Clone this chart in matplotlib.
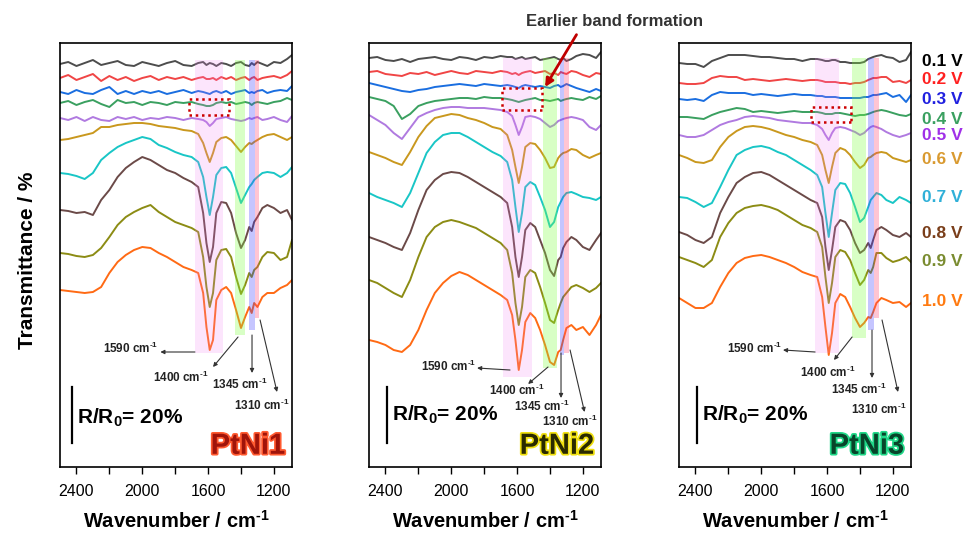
import matplotlib
matplotlib.use('Agg')
import matplotlib.pyplot as plt
import matplotlib.patheffects as pe
from matplotlib.patches import Rectangle
from matplotlib.transforms import blended_transform_factory

plt.rcParams['font.family'] = ['Liberation Sans', 'DejaVu Sans']
plt.rcParams['mathtext.fontset'] = 'custom'
plt.rcParams['mathtext.rm'] = 'Liberation Sans:bold'
plt.rcParams['mathtext.default'] = 'rm'

# 波數 (cm-1)
wavenumber = [2500, 2450, 2400, 2350, 2300, 2250, 2200, 2150, 2100, 2050, 2000, 1950,
              1900, 1850, 1800, 1750, 1700, 1660, 1630, 1610, 1590, 1570, 1550, 1520,
              1490, 1460, 1430, 1400, 1375, 1350, 1335, 1320, 1300, 1270, 1240, 1200,
              1160, 1120, 1090]
potentials = ['0.1 V', '0.2 V', '0.3 V', '0.4 V', '0.5 V', '0.6 V', '0.7 V', '0.8 V', '0.9 V', '1.0 V']
samples = ['PtNi1', 'PtNi2', 'PtNi3']

# PtNi1 (offset spectra, a.u.)
p1_01 = [403,405,401,404,407,402,404,406,402,401,405,403,401,404,406,402,401,404,405,402,404,403,401,404,403,401,404,405,402,401,404,402,405,403,401,405,404,408,412]
p1_02 = [389,392,387,390,393,386,391,387,390,386,389,391,387,390,388,390,387,389,390,388,388,389,387,390,388,390,387,389,390,387,389,390,387,389,390,391,389,392,396]
p1_03 = [375,373,377,374,373,377,380,373,376,373,376,374,376,373,375,377,374,376,375,374,373,375,376,374,376,373,375,376,377,374,375,374,376,377,374,376,377,376,381]
p1_04 = [364,366,362,365,367,363,360,367,364,365,362,365,364,362,365,364,365,363,362,361,361,362,364,365,364,365,363,364,365,364,362,364,365,364,363,365,366,369,367]
p1_05 = [349,347,350,346,350,347,346,350,348,350,347,349,348,350,349,347,349,348,347,345,341,344,348,349,350,348,347,346,347,349,348,349,350,347,348,350,347,345,351]
p1_06 = [327,328,330,332,334,340,340,342,343,344,344,343,341,340,339,337,336,333,324,314,305,314,325,329,330,327,321,315,320,324,323,325,327,330,332,333,330,327,330]
p1_07 = [294,293,291,288,294,307,314,320,324,327,330,328,322,319,315,312,310,305,290,270,252,270,292,299,300,294,279,264,272,280,283,287,290,294,295,294,290,294,300]
p1_08 = [257,256,254,255,252,267,277,290,299,305,310,307,302,297,294,289,285,280,254,224,205,220,254,265,264,254,234,219,227,240,236,245,250,259,262,259,254,257,247]
p1_09 = [214,213,211,210,212,219,230,242,250,255,259,262,255,250,245,242,239,235,210,180,160,174,207,217,218,210,190,173,182,194,190,197,200,210,215,214,207,210,227]
p1_10 = [177,176,175,174,175,180,194,205,212,217,220,219,214,210,205,200,197,194,174,140,117,127,167,177,180,174,157,139,150,160,154,164,160,170,174,174,179,182,187]

# PtNi2
p2_01 = [409,410,407,406,408,405,408,409,410,408,407,410,409,407,410,409,411,410,410,408,409,410,408,409,410,407,408,409,410,408,407,409,406,408,411,413,412,409,415]
p2_02 = [395,396,393,392,391,394,393,395,392,394,396,394,393,396,395,394,396,395,393,394,392,394,395,396,394,395,396,393,394,392,395,394,393,396,395,392,390,394,393]
p2_03 = [384,382,380,378,376,375,377,378,380,381,382,383,382,381,383,382,381,382,381,380,379,381,382,381,380,381,380,379,381,382,380,381,383,381,379,377,375,378,376]
p2_04 = [370,368,366,361,348,353,361,364,366,367,368,369,369,368,370,369,369,368,367,366,365,366,367,368,369,367,367,366,367,368,366,367,368,369,368,367,370,368,371]
p2_05 = [352,347,342,334,328,339,350,354,357,359,360,360,359,359,359,358,357,355,351,342,332,340,350,351,350,348,344,340,342,346,347,348,349,350,349,347,340,337,342]
p2_06 = [315,312,309,305,302,315,330,341,349,351,353,352,349,347,344,340,338,332,317,300,284,300,320,324,323,317,309,299,300,309,312,314,315,318,317,312,309,312,314]
p2_07 = [274,270,267,264,260,274,294,314,325,332,334,334,330,325,320,315,311,305,287,260,235,254,280,285,282,270,257,240,245,260,265,270,274,275,273,270,269,267,270]
p2_08 = [230,227,224,220,217,234,257,277,287,293,295,294,290,285,280,275,270,264,240,210,190,210,237,244,240,227,214,197,191,207,210,219,225,230,227,220,217,227,234]
p2_09 = [187,184,179,174,170,187,210,230,240,245,247,245,242,239,234,229,224,217,194,164,142,160,190,197,194,180,164,147,144,157,164,170,174,180,182,179,175,179,184]
p2_10 = [127,125,122,117,115,122,137,157,174,184,191,195,192,187,182,177,172,167,152,127,97,117,145,154,149,137,122,105,102,115,117,127,139,142,137,140,132,142,152]

# PtNi3
p3_01 = [404,403,403,400,406,409,412,412,412,411,410,410,409,408,408,406,408,408,407,406,406,407,407,405,405,404,404,404,405,408,409,410,411,412,410,409,405,407,415]
p3_02 = [384,383,383,384,389,391,390,390,387,388,387,386,387,388,387,386,387,387,386,385,385,385,385,384,384,383,384,384,385,387,388,389,389,390,390,385,386,384,387]
p3_03 = [368,367,368,366,372,375,374,374,374,372,373,372,371,372,373,372,372,371,371,370,370,370,370,369,369,369,369,369,370,370,371,372,372,373,374,370,372,365,372]
p3_04 = [350,350,349,348,352,355,357,359,358,355,356,355,354,355,356,355,355,355,354,353,353,353,354,354,353,352,351,352,352,353,354,355,356,357,356,354,352,351,353]
p3_05 = [332,330,330,332,337,342,345,347,350,351,350,349,347,346,345,344,344,342,338,332,327,334,339,340,339,337,335,332,334,338,340,341,340,338,335,332,330,332,334]
p3_06 = [312,309,305,304,307,320,330,336,340,341,340,338,335,332,330,327,325,322,312,297,284,300,314,319,317,312,305,299,302,309,310,312,314,315,314,309,307,305,307]
p3_07 = [270,269,265,260,264,280,297,312,317,320,321,319,315,312,307,302,297,292,280,254,230,254,277,284,283,274,260,245,249,260,267,270,274,272,267,264,270,267,264]
p3_08 = [235,232,227,224,230,254,270,284,290,294,295,292,287,282,277,272,267,264,250,220,197,217,240,247,245,237,224,214,217,224,219,227,237,240,237,232,230,234,230]
p3_09 = [210,207,204,200,207,230,244,254,259,261,262,260,257,252,247,242,239,235,220,190,164,184,210,217,215,207,194,182,187,197,194,200,214,214,209,205,207,210,205]
p3_10 = [169,164,159,159,164,180,194,204,209,211,212,210,207,204,200,195,192,190,170,140,112,134,164,173,170,160,149,140,144,150,149,155,164,169,167,164,165,160,164]

panels = [
    [p1_01, p1_02, p1_03, p1_04, p1_05, p1_06, p1_07, p1_08, p1_09, p1_10],
    [p2_01, p2_02, p2_03, p2_04, p2_05, p2_06, p2_07, p2_08, p2_09, p2_10],
    [p3_01, p3_02, p3_03, p3_04, p3_05, p3_06, p3_07, p3_08, p3_09, p3_10],
]

line_colors = ['#4d4d4d', '#f04545', '#1a6ee0', '#3aa060', '#b07ae0',
               '#c9981e', '#19c6c6', '#6b4a48', '#8c8c14', '#ff6a14']
label_colors = ['#000000', '#ff2020', '#2020e0', '#3aa060', '#a030e8',
                '#d99a30', '#30b0d8', '#7a3e1a', '#7a8c30', '#ff7a10']
label_h = [405, 387, 368, 348, 332, 308, 270, 234, 205, 165]

# 色帶 (wn_left, wn_right, bottom) for 1590 / 1400 / 1345 / 1310
band_colors = [('#f080f0', 0.2), ('#80ff40', 0.3), ('#4040ff', 0.3), ('#ff4070', 0.3)]
bands = [
    [(1680, 1510, 114), (1436, 1375, 132), (1351, 1314, 137), (1314, 1290, 149)],
    [(1683, 1511, 90), (1440, 1355, 99), (1338, 1312, 112), (1312, 1284, 114)],
    [(1673, 1527, 114), (1450, 1363, 129), (1353, 1316, 137), (1316, 1284, 149)],
]
band_top = [407, 409, 409]

# 標註 (text pos, arrow tail, arrow head)
peak_notes = [
    [('1590', (1904, 119), 'right', (1680, 115), (1890, 115)),
     ('1400', (1764, 90), 'center', (1418, 130), (1570, 100)),
     ('1345', (1406, 83), 'center', (1333, 132), (1333, 94)),
     ('1310', (1272, 62), 'center', (1284, 147), (1181, 75))],
    [('1590', (1849, 101), 'right', (1643, 97), (1843, 99)),
     ('1400', (1600, 77), 'center', (1412, 100), (1533, 83)),
     ('1345', (1448, 61), 'center', (1333, 114), (1333, 69)),
     ('1310', (1278, 46), 'center', (1278, 117), (1190, 55))],
    [('1590', (1874, 119), 'right', (1673, 115), (1868, 117)),
     ('1400', (1594, 95), 'center', (1448, 130), (1558, 107)),
     ('1345', (1406, 78), 'center', (1327, 137), (1327, 89)),
     ('1310', (1284, 58), 'center', (1266, 147), (1169, 75))],
]
dotted_boxes = [(1473, 352, 243, 16), (1448, 357, 243, 22), (1454, 345, 243, 15)]
scale_pos = [(2427, 24, 2397, 49), (2391, 24, 2360, 52), (2391, 24, 2360, 52)]
name_style = [('#a0140a', '#ff5a30'), ('#2a2a00', '#f0e010'), ('#08442a', '#20d888')]

unit = 'cm$^{\u20101}$'

fig = plt.figure(figsize=(9.69, 5.37), dpi=100)
lefts = [60, 369, 679]
axes = []
for i in range(3):
    ax = fig.add_axes([lefts[i] / 969, 70 / 537, 232 / 969, 424 / 537])
    axes.append(ax)
    for j, y in enumerate(panels[i]):
        ax.plot(wavenumber, y, color=line_colors[j], lw=1.4, zorder=2)

    for (w1, w2, b), (c, a) in zip(bands[i], band_colors):
        ax.axvspan(w2, w1, ymin=b / 424, ymax=band_top[i] / 424, color=c, alpha=a, lw=0, zorder=3)

    x0, y0, w, h = dotted_boxes[i]
    ax.add_patch(Rectangle((x0, y0), w, h, fill=False, ec='#cc0000', ls=(0, (1, 1.5)), lw=1.8, zorder=4))

    for num, (tx, ty), ha, tail, head in peak_notes[i]:
        ax.text(tx, ty, num + ' ' + unit, fontsize=8.5, fontweight='bold', ha=ha, va='center',
                color='#222222')
        ax.annotate('', xy=head, xytext=tail,
                    arrowprops=dict(arrowstyle='-|>', color='#333333', lw=0.8,
                                    mutation_scale=6, shrinkA=0, shrinkB=0), zorder=5)

    bx, by, tx, ty = scale_pos[i]
    ax.plot([bx, bx], [by, by + 56], color='black', lw=1.6)
    ax.text(tx, ty, 'R/R$_0$= 20%', fontsize=15, fontweight='bold', ha='left', va='center')

    fc, ec = name_style[i]
    ax.text(0.81, 0.05, samples[i], transform=ax.transAxes, fontsize=21, fontweight='bold',
            color=fc, ha='center', va='center',
            path_effects=[pe.withStroke(linewidth=2.5, foreground=ec)])

    ax.set_xlim(2500, 1090)
    ax.set_ylim(0, 424)
    ax.set_yticks([])
    ax.set_xticks([2400, 2000, 1600, 1200])
    ax.set_xticks([2200, 1800, 1400], minor=True)
    ax.tick_params(axis='x', which='both', direction='out', length=5, width=1, labelsize=11.5, pad=7)
    ax.set_xlabel('Wavenumber / ' + unit, fontsize=14.5, fontweight='bold', labelpad=8)
    for s in ax.spines.values():
        s.set_linewidth(1.2)

# 電位標籤
trans = blended_transform_factory(axes[2].transAxes, axes[2].transData)
for j, lab in enumerate(potentials):
    axes[2].text(1.047, label_h[j], lab, transform=trans, fontsize=12.5, fontweight='bold',
                 color=label_colors[j], ha='left', va='center')

fig.text(0.028, 0.515, 'Transmittance / %', rotation=90, fontsize=15, fontweight='bold',
         ha='center', va='center')

axes[1].annotate('Earlier band formation', xy=(1430, 380), xytext=(615 / 969, 1 - 22 / 537),
                 textcoords='figure fraction', fontsize=12, fontweight='bold', color='#333333',
                 ha='center', va='center',
                 arrowprops=dict(arrowstyle='-|>', color='#c00000', lw=2, mutation_scale=12,
                                 relpos=(0.3, 0), shrinkA=2, shrinkB=0))

fig.savefig('out.png', dpi=100)
